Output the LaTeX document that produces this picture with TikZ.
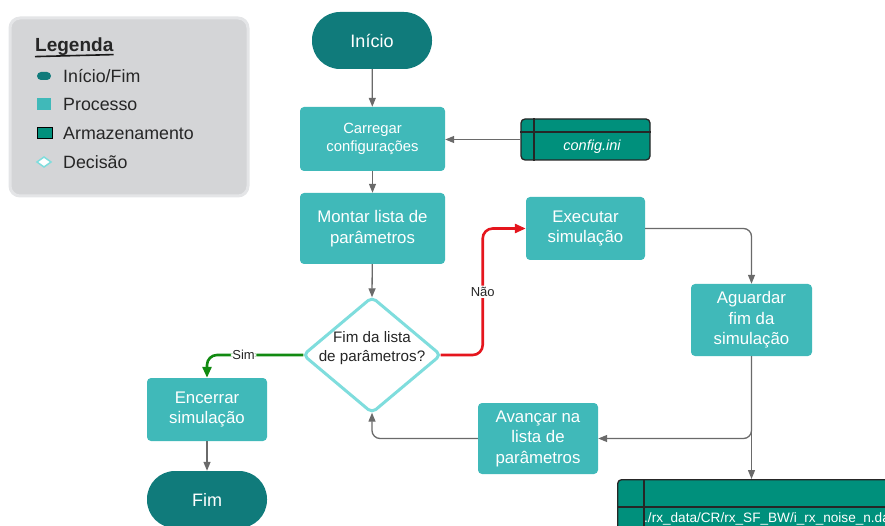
\documentclass[tikz,border=0pt]{standalone}
\usepackage{fontspec}
\setmainfont{Liberation Sans}
\usetikzlibrary{arrows.meta}
\definecolor{termc}{HTML}{107B7B}
\definecolor{procc}{HTML}{40B9B9}
\definecolor{storc}{HTML}{00907C}
\definecolor{decc}{HTML}{7FDDDD}
\definecolor{flowc}{HTML}{6A6A6A}
\definecolor{yesc}{HTML}{118A11}
\definecolor{noc}{HTML}{E5151D}
\definecolor{legc}{HTML}{D4D5D7}
\definecolor{legb}{HTML}{E4E5E7}
\begin{document}
\begin{tikzpicture}[x=1pt,y=-1pt,
  term/.style={fill=termc, rounded corners=28pt, minimum width=120pt, minimum height=57pt,
    inner sep=0pt, text=white, font=\fontsize{18}{21}\selectfont},
  proc/.style={fill=procc, rounded corners=4pt, inner sep=0pt, text=white, align=center,
    font=\fontsize{16.8}{20.5}\selectfont},
  stor/.style={fill=storc, draw=black!85, line width=1.3pt, rounded corners=4pt},
  flow/.style={draw=flowc, line width=1.3pt, rounded corners=8pt,
    -{Triangle[length=9pt,width=7pt]}},
  yes/.style={draw=yesc, line width=2.6pt, rounded corners=10pt,
    -{Triangle[length=11pt,width=9pt]}},
  no/.style={draw=noc, line width=2.6pt, rounded corners=10pt,
    -{Triangle[length=11pt,width=9pt]}},
  lbl/.style={fill=white, inner sep=1.5pt, text=black!85, font=\fontsize{13}{15}\selectfont},
  legtext/.style={anchor=west, inner sep=0pt, text=black!85, font=\fontsize{17.8}{20}\selectfont}]
\useasboundingbox (0,0) rectangle (885,526);
\clip (0,0) rectangle (885,526);

% legend panel
\draw[fill=legc, draw=legb, line width=3pt, rounded corners=10pt] (10,18) rectangle (248,196);
\node[legtext, font=\fontsize{19}{21}\selectfont\bfseries] (legtitle) at (35,46.5) {Legenda};
\draw[black!90, line width=1.6pt] (legtitle.south west) ++(0,1) -- ([yshift=1pt]legtitle.south east);
\fill[termc, rounded corners=4pt] (37,72) rectangle (51,80);
\node[legtext] (legterm) at (63,76) {Início/Fim};
\fill[procc] (37,98) rectangle (51,110);
\node[legtext] (legproc) at (63,104) {Processo};
\draw[fill=storc, draw=black, line width=1pt] (37,128) rectangle (52,139);
\node[legtext] (legstor) at (63,133) {Armazenamento};
\draw[fill=white, draw=decc, line width=1.5pt] (37,162) -- (44,157) -- (51,162) -- (44,167) -- cycle;
\node[legtext] (legdec) at (63,162) {Decisão};

% flowchart blocks
\node[term] (start) at (372,40.5) {Início};
\node[proc, minimum width=145pt, minimum height=64pt, font=\fontsize{14.8}{18}\selectfont]
  (load) at (372.5,139) {Carregar\\configurações};
\node[proc, minimum width=145pt, minimum height=71pt] (build) at (372.5,228.5) {Montar lista de\\parâmetros};
\node[proc, minimum width=120pt, minimum height=63pt] (close) at (207,409.5) {Encerrar\\simulação};
\node[term] (stop) at (207,499.5) {Fim};
\node[proc, minimum width=119pt, minimum height=63pt] (exec) at (585.5,228.5) {Executar\\simulação};
\node[proc, minimum width=121pt, minimum height=72pt] (wait) at (751.5,320) {Aguardar\\fim da\\simulação};
\node[proc, minimum width=120pt, minimum height=71pt] (next) at (538,438.5) {Avançar na\\lista de\\parâmetros};

% decision: the node spans the diamond's tips, the outline is drawn through them
\node[minimum width=137pt, minimum height=115pt, inner sep=0pt] (check) at (372,355) {};
\draw[draw=decc, fill=white, line width=3pt, rounded corners=5pt]
  (check.north) -- (check.east) -- (check.south) -- (check.west) -- cycle;
\node[align=center, text=black!85, font=\fontsize{15.2}{18.5}\selectfont] (checktext)
  at (372,348) {Fim da lista\\de parâmetros?};

% configuration file
\node[stor, minimum width=129pt, minimum height=41pt, inner sep=0pt] (cfg) at (585.5,139.5) {};
\draw[black!85, line width=1.3pt] (cfg.north west -| 534,0) -- (cfg.south west -| 534,0);
\draw[black!85, line width=1.3pt] (cfg.west |- 0,132) -- (cfg.east |- 0,132);
\node[text=white, font=\fontsize{14.5}{17}\selectfont\itshape] (cfgtext) at (592,146.5) {config.ini};

% output data file
\node[stor, minimum width=280pt, minimum height=70pt, inner sep=0pt, anchor=north west] (out) at (617,479) {};
\draw[black!85, line width=1.3pt] (644,479) -- (644,549);
\draw[black!85, line width=1.3pt] (617,507) -- (897,507);
\node[text=white, anchor=base west, inner sep=0pt, font=\fontsize{13.6}{16}\selectfont]
  (outtext) at (644,522) {./rx\_data/CR/rx\_SF\_BW/i\_rx\_noise\_n.dat};

% connectors
\draw[flow] (start) -- (load);
\draw[flow] (cfg.west) -- (load.east |- cfg.west);
\draw[flow] (load) -- (build);
\draw[flow] (build) -- (check.north);
\draw[yes] (check.west) -| node[lbl, pos=0.31] {Sim} (close.north);
\draw[flow] (close) -- (stop);
\draw[no] (check.east) -- ++(42,0) |- node[lbl, pos=0.25] {Não} (exec.west);
\draw[flow] (exec.east) -| (wait.north);
\draw[flow] (wait.south) -- (wait.south |- out.north);
\draw[flow] (wait.south) |- (next.east);
\draw[flow] (next.west) -| (check.south);
\end{tikzpicture}
\end{document}
